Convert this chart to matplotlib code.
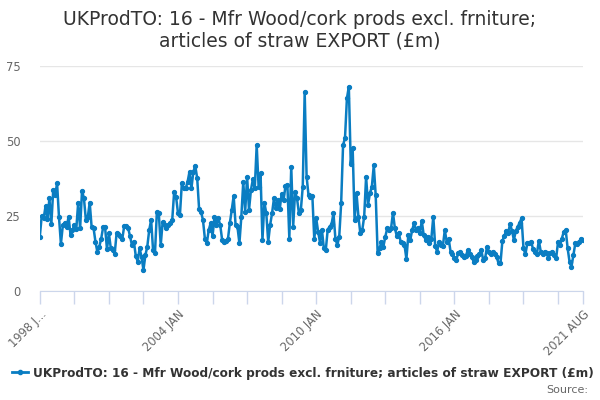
import matplotlib
matplotlib.use('Agg')
import matplotlib.pyplot as plt
from matplotlib.lines import Line2D

# monthly values, Jan 1998 .. Aug 2021
y1998 = [18.1, 25, 24.2, 28.3, 23.9, 30.9, 22.2, 33.7, 32, 35.9, 24.6, 15.7]
y1999 = [21.9, 22.7, 21.3, 24.8, 18.7, 20.3, 22, 20.6, 29.5, 20.9, 33.4, 30.9]
y2000 = [23.7, 24.6, 29.5, 21.3, 21, 16.4, 13, 14.8, 17.5, 21.3, 21.3, 13.9]
y2001 = [19.2, 14.2, 13.7, 12.3, 19.2, 19, 18.3, 17.5, 21.7, 21.7, 21, 18.3]
y2002 = [15.3, 16.5, 11.7, 9.8, 14.2, 11.4, 7, 11.9, 14.8, 20.3, 23.7, 13.7]
y2003 = [12.6, 26.4, 25.9, 15.3, 23, 22, 20.9, 22, 22.6, 23.7, 33.1, 31.4]
y2004 = [25.9, 25.3, 35.9, 34.2, 34.2, 36.4, 39.8, 34.2, 39.8, 41.7, 37.6, 27.3]
y2005 = [26.4, 23.7, 17.5, 15.9, 20.3, 22.6, 18.3, 24.6, 22, 24.2, 22, 17]
y2006 = [16.4, 16.7, 17.2, 22.6, 27, 31.7, 22, 21.3, 15.9, 24.8, 36.4, 26.4]
y2007 = [38.1, 27, 33.7, 37.2, 34.2, 48.7, 34.6, 39.2, 17, 29.5, 25.9, 16.4]
y2008 = [22, 25.9, 30.9, 27.6, 30.3, 27.2, 32.5, 30.3, 35, 35.3, 17.5, 41.4]
y2009 = [21.5, 33, 30.9, 25.9, 27, 34.8, 66.4, 38.1, 31.9, 31.2, 31.7, 17.2]
y2010 = [24.2, 19.8, 16.1, 20.3, 14.2, 13.7, 20.5, 21.4, 22.3, 25.9, 17.5, 15.3]
y2011 = [18.1, 29.2, 48.7, 50.9, 64.2, 68.1, 42.5, 47.6, 23.6, 32.6, 24.8, 19.2]
y2012 = [20.3, 24.8, 38.1, 28.7, 32.6, 34.8, 41.9, 31.9, 12.8, 14.2, 16.4, 14.8]
y2013 = [18.1, 20.9, 20.5, 20.9, 26.1, 20.9, 18.3, 19.4, 16.4, 15.9, 15.3, 10.7]
y2014 = [18.7, 17, 20.3, 22.6, 20.3, 20.9, 19.2, 23.4, 18.7, 17, 18.1, 15.9]
y2015 = [17.5, 24.8, 15, 13.1, 16.4, 15.3, 15, 20.3, 16.4, 17.5, 13.1, 12.5]
y2016 = [11.1, 10.3, 12.8, 13.1, 12, 11.2, 11.7, 13.7, 12.3, 11.4, 9.8, 10.3]
y2017 = [11.7, 12.3, 13.7, 10.3, 10.9, 14.8, 13.1, 12.5, 13.1, 12.3, 11.4, 9.2]
y2018 = [9.2, 16.7, 18.3, 20.1, 19.4, 22.3, 20.1, 17, 20.1, 21.4, 22.8, 24.2]
y2019 = [14.2, 12.3, 15.9, 16.1, 16.4, 13.9, 13.1, 12.5, 16.8, 13.1, 12.3, 13.1]
y2020 = [12.8, 10.9, 12.8, 13.1, 12, 10.9, 16.4, 15.3, 17.5, 19.8, 20.3, 14.2]
y2021 = [9.7, 8.1, 12, 15.9, 15.6, 16.4, 17.5, 17]

values = (y1998 + y1999 + y2000 + y2001 + y2002 + y2003 + y2004 + y2005 + y2006
          + y2007 + y2008 + y2009 + y2010 + y2011 + y2012 + y2013 + y2014
          + y2015 + y2016 + y2017 + y2018 + y2019 + y2020 + y2021)
months = list(range(len(values)))

series_name = "UKProdTO: 16 - Mfr Wood/cork prods excl. frniture; articles of straw EXPORT (£m)"
title = "UKProdTO: 16 - Mfr Wood/cork prods excl. frniture;\narticles of straw EXPORT (£m)"
tick_months = list(range(0, 271, 18)) + [283]
label_months = {0: "1998 J...", 72: "2004 JAN", 144: "2010 JAN", 216: "2016 JAN", 283: "2021 AUG"}

blue = '#0a7dc2'
grid_col = '#e6e6e6'
axis_col = '#ccd6eb'
text_col = '#666666'

fig = plt.figure(figsize=(6, 4), dpi=100)
ax = fig.add_axes([39.8 / 600, 1 - 291 / 400, (583 - 39.8) / 600, (291 - 66) / 400])

ax.plot(months, values, color=blue, lw=1.8, marker='o', ms=2.8, zorder=3)

ax.set_xlim(0, len(values) - 1)
ax.set_ylim(0, 75)
ax.set_yticks([0, 25, 50, 75])
ax.yaxis.grid(True, color=grid_col, lw=1)
ax.set_axisbelow(True)

ax.set_xticks(tick_months)
ax.set_xticklabels([label_months.get(m, '') for m in tick_months],
                   rotation=45, ha='right', rotation_mode='anchor')

for s in ['top', 'right', 'left']:
    ax.spines[s].set_visible(False)
ax.spines['bottom'].set_color(axis_col)
ax.tick_params(axis='x', colors=axis_col, length=9, width=1, labelcolor=text_col,
               labelsize=8.3, pad=3)
ax.tick_params(axis='y', length=0, labelcolor=text_col, labelsize=8.3, pad=14)

fig.text(0.5, 1 - 30 / 400, title, ha='center', va='center', fontsize=13.5,
         color='#333333', linespacing=1.15)

handle = Line2D([], [], color=blue, lw=2, marker='o', ms=3)
fig.legend([handle], [series_name], loc='center', bbox_to_anchor=(0.505, 1 - 373 / 400),
           frameon=False, handlelength=1.3, handletextpad=0.4,
           prop={'weight': 'bold', 'size': 8.7}, labelcolor='#333333')

fig.text(588 / 600, 1 - 390 / 400, "Source:", ha='right', va='center',
         fontsize=8, color=text_col)

fig.savefig('out.png', dpi=100)
